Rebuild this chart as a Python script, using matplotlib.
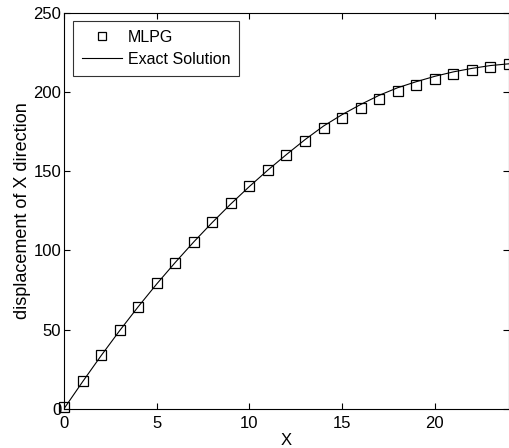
import matplotlib
matplotlib.use('Agg')
import matplotlib.pyplot as plt

# values
x_nodes = list(range(0, 25))
mlpg = [1, 17.7, 33.7, 49.5, 64.4, 79.2, 92.2, 105.5, 117.8, 129.7,
        140.7, 150.8, 160.3, 168.9, 177.1, 183.6, 190.1, 195.8, 200.7,
        204.5, 208.3, 211.2, 213.9, 216.0, 217.7]
exact = [0, 17.0, 33.5, 49.3, 64.4, 78.8, 92.4, 105.4, 117.7, 129.4,
         140.4, 150.8, 160.6, 170.0, 178.6, 185.8, 192.2, 198.0, 202.8,
         206.6, 210.0, 212.8, 215.0, 216.8, 217.9]

plt.rcParams['font.family'] = ['Liberation Sans', 'DejaVu Sans']

fig = plt.figure(figsize=(5.1, 4.48), dpi=100)
ax = fig.add_axes([0.1255, 0.0877, 0.8725, 0.8833])

ax.plot(x_nodes, mlpg, linestyle='none', marker='s', markersize=7.2,
        markerfacecolor='none', markeredgecolor='black', markeredgewidth=0.9,
        label='MLPG', clip_on=False)
ax.plot(x_nodes, exact, color='black', linewidth=0.8, label='Exact Solution')

ax.set_xlim(0, 24)
ax.set_ylim(0, 250)
ax.set_xticks([0, 5, 10, 15, 20])
ax.set_yticks([0, 50, 100, 150, 200, 250])
ax.tick_params(direction='in', top=True, right=True, length=4, width=0.8,
               labelsize=12, pad=2)
ax.tick_params(axis='x', pad=5)
for s in ax.spines.values():
    s.set_linewidth(0.8)

ax.set_xlabel('X', fontsize=12, labelpad=2)
ax.set_ylabel('displacement of X direction', fontsize=13, labelpad=2)

leg = ax.legend(loc='upper left', fontsize=11.5, frameon=True, fancybox=False,
                edgecolor='black', handlelength=2.5, borderpad=0.55,
                labelspacing=0.45, handletextpad=0.4, markerscale=0.75,
                borderaxespad=0, bbox_to_anchor=(0.02, 0.98))
leg.get_frame().set_linewidth(0.8)

fig.savefig('out.png', dpi=100)
